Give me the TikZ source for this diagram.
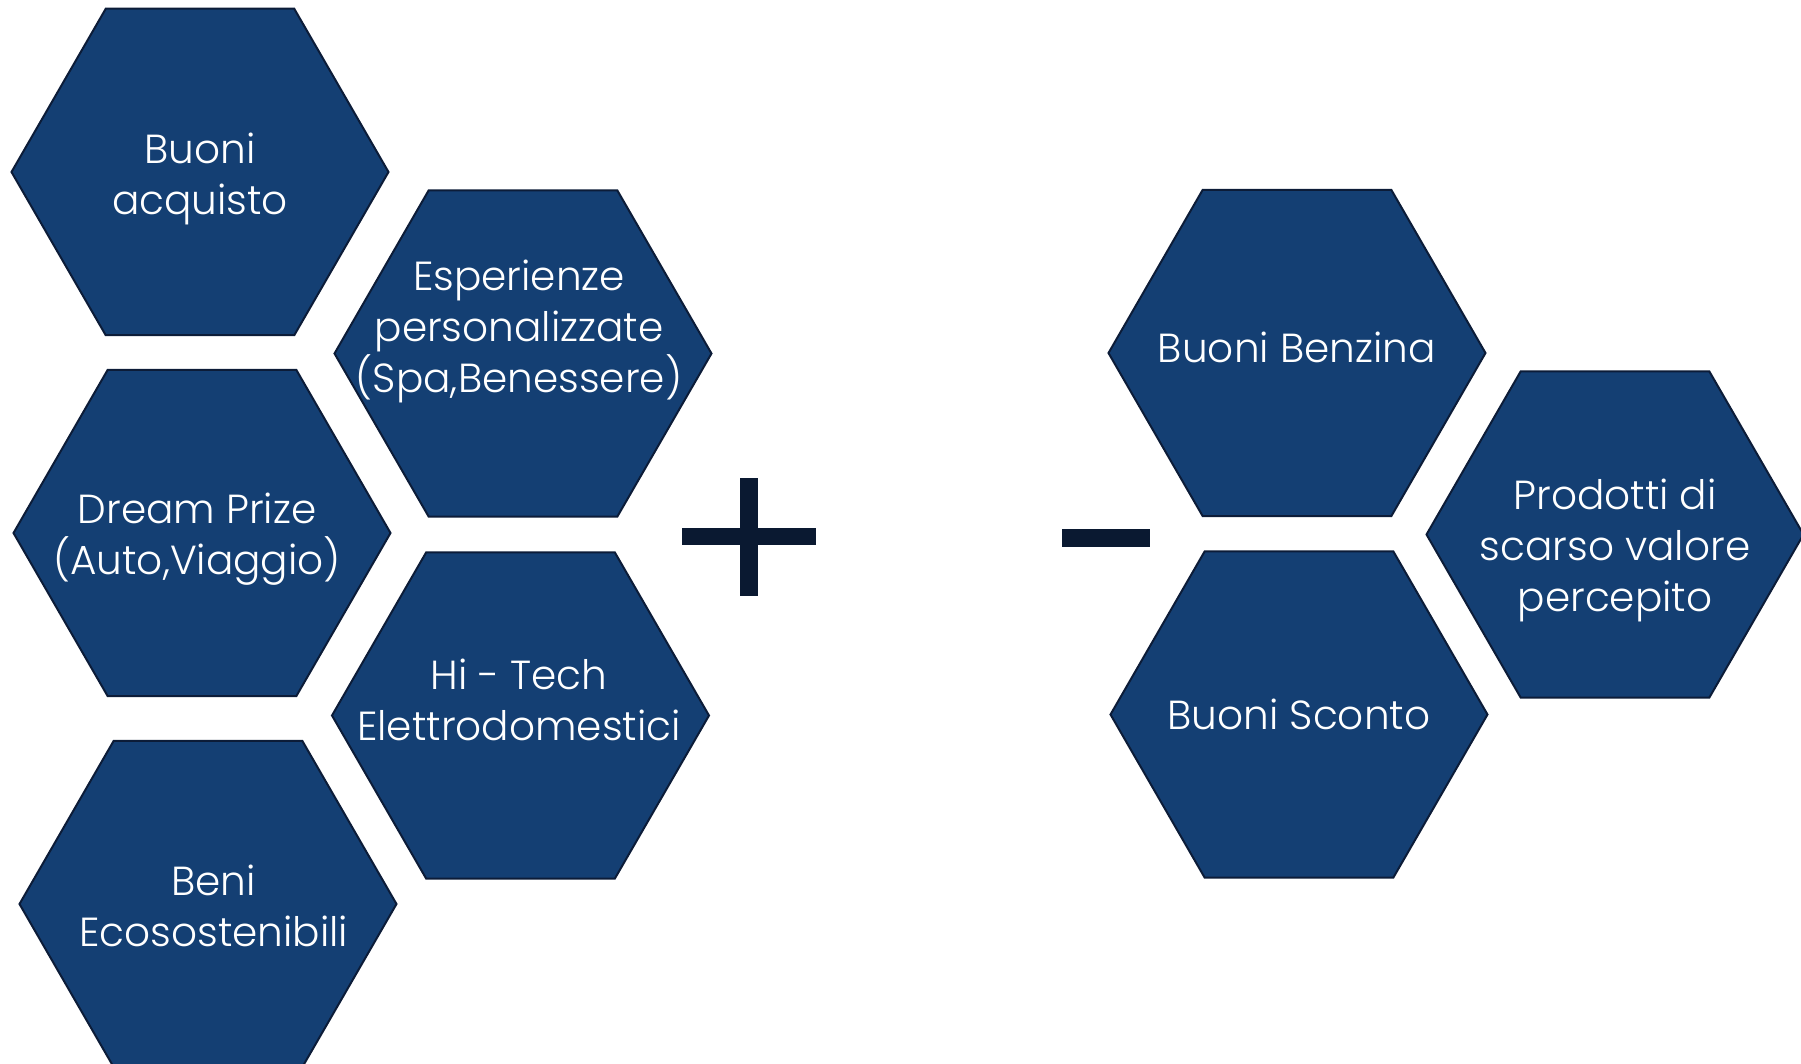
\documentclass[tikz,border=0pt]{standalone}
\usepackage{fontspec}
\setmainfont{Poppins}[UprightFont={* Light}]
\usetikzlibrary{shapes.geometric}
\definecolor{hexfill}{RGB}{20,63,115}
\definecolor{hexline}{RGB}{12,28,56}
\definecolor{signcol}{RGB}{10,25,49}
\tikzset{
  hexa/.style={regular polygon, regular polygon sides=6, minimum size=188.5pt,
    inner sep=0pt, outer sep=0pt, fill=hexfill, draw=hexline, line width=1pt},
  lbl/.style={text=white, align=center, inner sep=0pt,
    font=\fontsize{20.3}{25.5}\selectfont}
}
\begin{document}
\begin{tikzpicture}[x=0.5pt,y=-0.5pt]
\useasboundingbox (0,0) rectangle (1801,1064);
% left group
\node[hexa] (h1) at (200,172) {};
\node[hexa] (h2) at (523,353.5) {};
\node[hexa] (h3) at (202,533) {};
\node[hexa] (h4) at (520.5,715.5) {};
\node[hexa] (h5) at (208,904) {};
% right group
\node[hexa] (h6) at (1297,353) {};
\node[hexa] (h7) at (1299,714.5) {};
\node[hexa] (h8) at (1615,534.5) {};
% labels
\node[lbl] (t1) at (200,178.5) {Buoni\\acquisto};
\node[lbl] (t2) at (519,331.5) {Esperienze\\personalizzate\\(Spa,Benessere)};
\node[lbl] (t3) at (197,539.5) {Dream Prize\\(Auto,Viaggio)};
\node[lbl] (t4) at (519,700) {Hi - Tech\\Elettrodomestici};
\node[lbl] (t5) at (213.6,905.5) {Beni\\Ecosostenibili};
\node[lbl] (t6) at (1296.8,347) {Buoni Benzina};
\node[lbl] (t7) at (1299,714.5) {Buoni Sconto};
\node[lbl] (t8) at (1615,550.5) {Prodotti di\\scarso valore\\percepito};
% plus and minus signs
\fill[signcol] (740.2,477.7) rectangle (757.7,595.7);
\fill[signcol] (681.9,528.3) rectangle (815.6,544.7);
\fill[signcol] (1062,529) rectangle (1150,547);
\end{tikzpicture}
\end{document}
